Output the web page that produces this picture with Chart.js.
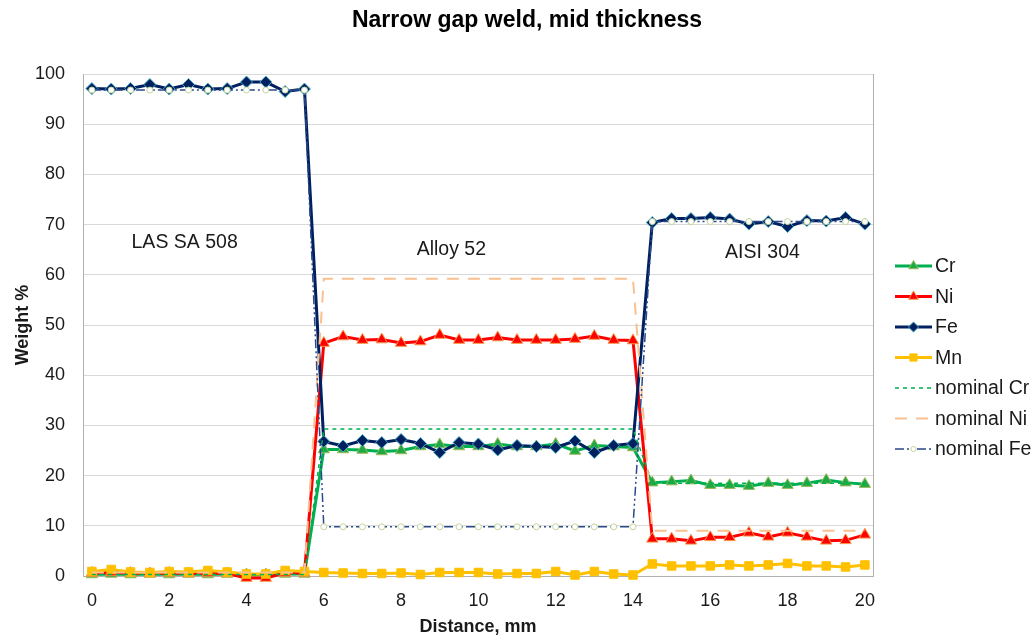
<!DOCTYPE html>
<html>
<head>
<meta charset="utf-8">
<title>Narrow gap weld, mid thickness</title>
<script src="https://cdn.jsdelivr.net/npm/chart.js@4.4.1/dist/chart.umd.min.js"></script>
<style>
  html, body { margin: 0; padding: 0; background: #fff; }
  #wrap { width: 1036px; height: 640px; position: relative; }
</style>
</head>
<body>
<div id="wrap"><canvas id="weldChart"></canvas></div>
<script>
// distance along the weld, mm
const distance = [0, 0.5, 1, 1.5, 2, 2.5, 3, 3.5, 4, 4.5, 5, 5.5,
    6, 6.5, 7, 7.5, 8, 8.5, 9, 9.5, 10, 10.5, 11, 11.5, 12, 12.5, 13, 13.5, 14,
    14.5, 15, 15.5, 16, 16.5, 17, 17.5, 18, 18.5, 19, 19.5, 20];

// measured weight %
const cr = [0.3, 0.4, 0.3, 0.4, 0.3, 0.4, 0.3, 0.4, 0.3, 0.3, 0.4, 0.4,
    25.2, 25.2, 25.1, 24.8, 25.0, 25.8, 26.2, 25.8, 25.8, 26.3, 25.8, 25.8, 26.3, 24.9, 26.0, 25.8, 25.6,
    18.6, 18.8, 19.0, 18.1, 18.1, 17.9, 18.5, 18.1, 18.5, 19.1, 18.6, 18.3];
const ni = [0.6, 0.7, 0.6, 0.5, 0.6, 0.5, 0.6, 0.5, -0.4, -0.4, 0.6, 0.6,
    46.4, 47.7, 47.0, 47.1, 46.4, 46.7, 48.0, 47.0, 47.0, 47.5, 47.0, 47.0, 47.0, 47.2, 47.8, 47.0, 46.9,
    7.4, 7.4, 7.0, 7.7, 7.7, 8.6, 7.8, 8.6, 7.8, 7.0, 7.1, 8.2];
const fe = [97.1, 97.0, 97.1, 97.9, 97.0, 97.9, 97.0, 97.1, 98.4, 98.4, 96.5, 97.0,
    26.8, 25.9, 27.0, 26.6, 27.2, 26.4, 24.6, 26.6, 26.3, 25.1, 26.0, 25.8, 25.6, 26.9, 24.6, 26.0, 26.4,
    70.4, 71.2, 71.2, 71.4, 71.1, 70.1, 70.6, 69.6, 70.8, 70.7, 71.4, 70.1];
const mn = [0.9, 1.3, 0.8, 0.7, 0.9, 0.8, 1.1, 0.8, 0.4, 0.4, 1.1, 0.9,
    0.7, 0.6, 0.5, 0.5, 0.6, 0.3, 0.7, 0.7, 0.7, 0.4, 0.5, 0.5, 0.9, 0.2, 0.9, 0.4, 0.2,
    2.4, 2.0, 2.0, 2.0, 2.2, 2.0, 2.2, 2.5, 2.0, 2.0, 1.8, 2.2];

// nominal composition of each material
const nomCr = [0.3, 0.3, 0.3, 0.3, 0.3, 0.3, 0.3, 0.3, 0.3, 0.3, 0.3, 0.3,
    29.3, 29.3, 29.3, 29.3, 29.3, 29.3, 29.3, 29.3, 29.3, 29.3, 29.3, 29.3, 29.3, 29.3, 29.3, 29.3, 29.3,
    18.5, 18.5, 18.5, 18.5, 18.5, 18.5, 18.5, 18.5, 18.5, 18.5, 18.5, 18.5];
const nomNi = [0.7, 0.7, 0.7, 0.7, 0.7, 0.7, 0.7, 0.7, 0.7, 0.7, 0.7, 0.7,
    59.2, 59.2, 59.2, 59.2, 59.2, 59.2, 59.2, 59.2, 59.2, 59.2, 59.2, 59.2, 59.2, 59.2, 59.2, 59.2, 59.2,
    9.0, 9.0, 9.0, 9.0, 9.0, 9.0, 9.0, 9.0, 9.0, 9.0, 9.0, 9.0];
const nomFe = [96.8, 96.8, 96.8, 96.8, 96.8, 96.8, 96.8, 96.8, 96.8, 96.8, 96.8, 96.8,
    9.8, 9.8, 9.8, 9.8, 9.8, 9.8, 9.8, 9.8, 9.8, 9.8, 9.8, 9.8, 9.8, 9.8, 9.8, 9.8, 9.8,
    70.6, 70.6, 70.6, 70.6, 70.6, 70.6, 70.6, 70.6, 70.6, 70.6, 70.6, 70.6];

// material zone labels
const zones = [
    { text: 'LAS SA 508', x: 2.4, y: 66.5 },
    { text: 'Alloy 52', x: 9.3, y: 65 },
    { text: 'AISI 304', x: 17.35, y: 64.5 }
];

const FONT = "'Liberation Sans', Arial, sans-serif";
const TITLE = 'Narrow gap weld, mid thickness';

const toPoints = (ys) => distance.map((x, i) => ({ x: x, y: ys[i] }));

const series = [
    { label: 'Cr', data: cr, color: '#00B050', fill: '#1FA846', edge: '#9BBB59', style: 'triangle', r: 6.5, width: 3 },
    { label: 'Ni', data: ni, color: '#FF0000', fill: '#FF0000', edge: '#F79646', style: 'triangle', r: 6.5, width: 3 },
    { label: 'Fe', data: fe, color: '#002060', fill: '#002060', edge: '#4BACC6', style: 'rectRot', r: 6, width: 3 },
    { label: 'Mn', data: mn, color: '#FFC000', fill: '#FFC000', edge: '#FFC000', style: 'rect', r: 6, width: 3 },
    { label: 'nominal Cr', data: nomCr, color: '#00B050', dash: [4, 4], width: 1.5, r: 0 },
    { label: 'nominal Ni', data: nomNi, color: '#FAC090', dash: [12, 9], width: 2, r: 0 },
    { label: 'nominal Fe', data: nomFe, color: '#2A4A8A', dash: [9, 3, 2, 3, 2, 3], width: 1.5,
      fill: '#FFFFFF', edge: '#C3D69B', style: 'circle', r: 3 }
];

const chartDecor = {
    id: 'chartDecor',
    afterDraw(chart) {
        const { ctx, chartArea, scales } = chart;
        ctx.save();

        // title, centred on the whole picture
        ctx.fillStyle = '#000';
        ctx.font = 'bold 23px ' + FONT;
        ctx.textAlign = 'center';
        ctx.textBaseline = 'middle';
        ctx.fillText(TITLE, 527, 21);

        // plot area frame (right side)
        ctx.strokeStyle = '#B0B0B0';
        ctx.lineWidth = 1;
        ctx.beginPath();
        ctx.moveTo(chartArea.right + 0.5, chartArea.top);
        ctx.lineTo(chartArea.right + 0.5, chartArea.bottom);
        ctx.stroke();

        // zone labels
        ctx.fillStyle = '#1a1a1a';
        ctx.font = '19.5px ' + FONT;
        zones.forEach(z => {
            ctx.fillText(z.text, scales.x.getPixelForValue(z.x), scales.y.getPixelForValue(z.y));
        });

        // legend
        const lx = 895, lw = 37, top = 266, step = 30.5;
        series.forEach((s, i) => {
            const y = top + i * step;
            ctx.setLineDash(s.dash || []);
            ctx.strokeStyle = s.color;
            ctx.lineWidth = s.width;
            ctx.beginPath();
            ctx.moveTo(lx, y);
            ctx.lineTo(lx + lw, y);
            ctx.stroke();
            ctx.setLineDash([]);
            if (s.r > 0) {
                ctx.fillStyle = s.fill;
                ctx.strokeStyle = s.edge;
                ctx.lineWidth = 1;
                Chart.helpers.drawPoint(ctx, { pointStyle: s.style, radius: s.r * 0.85, rotation: 0, borderWidth: 1 }, lx + lw / 2, y);
            }
            ctx.fillStyle = '#1a1a1a';
            ctx.font = '19.5px ' + FONT;
            ctx.textAlign = 'left';
            ctx.fillText(s.label, lx + lw + 3, y + 1);
        });
        ctx.restore();
    }
};

new Chart(document.getElementById('weldChart'), {
    type: 'line',
    data: {
        datasets: series.map((s, i) => ({
            label: s.label,
            data: toPoints(s.data),
            borderColor: s.color,
            borderWidth: s.width,
            borderDash: s.dash || [],
            pointStyle: s.style || 'circle',
            pointRadius: s.r,
            pointHoverRadius: s.r,
            pointBackgroundColor: s.fill || s.color,
            pointBorderColor: s.edge || s.color,
            pointBorderWidth: 1,
            tension: 0,
            fill: false,
            clip: false,
            order: series.length - i
        }))
    },
    options: {
        responsive: true,
        maintainAspectRatio: false,
        animation: false,
        layout: { padding: { top: 74, right: 163, left: 0, bottom: 0 } },
        plugins: {
            legend: { display: false },
            tooltip: { enabled: false },
            title: { display: false }
        },
        scales: {
            x: {
                type: 'linear',
                min: -0.23,
                max: 20.21,
                grid: { display: false, drawTicks: false },
                border: { display: true, color: '#B0B0B0', width: 1 },
                ticks: {
                    stepSize: 2,
                    includeBounds: false,
                    color: '#1a1a1a',
                    padding: 14,
                    maxRotation: 0,
                    font: { family: FONT, size: 18 }
                },
                title: {
                    display: true,
                    text: 'Distance, mm',
                    color: '#1a1a1a',
                    font: { family: FONT, size: 18, weight: 'bold' },
                    padding: { top: 0, bottom: 2 }
                },
                afterFit(scale) { scale.height = 64; }
            },
            y: {
                min: 0,
                max: 100,
                grid: { color: '#D9D9D9', lineWidth: 1, drawTicks: false },
                border: { display: true, color: '#B0B0B0', width: 1 },
                ticks: {
                    stepSize: 10,
                    color: '#1a1a1a',
                    padding: 18,
                    font: { family: FONT, size: 18 }
                },
                title: {
                    display: true,
                    text: 'Weight %',
                    color: '#1a1a1a',
                    font: { family: FONT, size: 18, weight: 'bold' },
                    padding: { top: 12, bottom: 0 }
                },
                afterFit(scale) { scale.width = 83; }
            }
        }
    },
    plugins: [chartDecor]
});
</script>
</body>
</html>
